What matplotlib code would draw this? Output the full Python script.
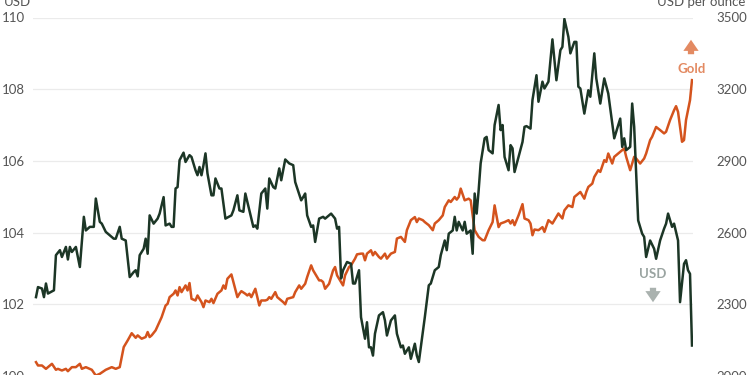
import matplotlib.pyplot as plt

plt.rcParams['font.family'] = ['Lato', 'DejaVu Sans']

# trading-session index (Jan 2024 -> Apr 2025) and values
usd_idx = [0, 1, 3, 4, 5, 6, 9, 10, 12, 13, 15, 16, 17, 18, 20, 22, 24, 25, 27, 29,
           30, 32, 33, 35, 39, 40, 42, 43, 45, 47, 49, 50, 51, 52, 54, 55, 56, 57, 59, 61,
           62, 64, 65, 67, 68, 69, 70, 71, 72, 74, 75, 77, 78, 80, 81, 82, 83, 84, 85, 86,
           88, 89, 90, 92, 93, 95, 98, 99, 101, 102, 104, 105, 107, 109, 110, 111, 113, 115, 116, 117,
           119, 120, 122, 123, 125, 127, 129, 130, 133, 134, 135, 136, 138, 139, 140, 142, 144, 145, 148, 150,
           151, 152, 153, 154, 156, 158, 159, 160, 162, 163, 165, 166, 167, 168, 169, 170, 172, 174, 175, 176,
           178, 180, 181, 183, 184, 185, 187, 188, 190, 191, 192, 195, 197, 198, 200, 202, 203, 205, 206, 207,
           209, 210, 211, 212, 214, 215, 216, 218, 219, 220, 221, 222, 223, 225, 226, 227, 229, 230, 232, 233,
           234, 235, 237, 238, 239, 240, 242, 244, 245, 246, 248, 249, 251, 252, 254, 255, 257, 259, 261, 263,
           264, 265, 267, 268, 270, 271, 272, 273, 275, 277, 278, 280, 281, 283, 285, 287, 289, 290, 293, 294,
           295, 296, 298, 299, 300, 302, 304, 305, 306, 308, 310, 311, 313, 315, 316, 317, 319, 320, 322, 323,
           325, 326, 327, 328, 329]
usd_vals = [102.20, 102.48, 102.44, 102.20, 102.58, 102.30, 102.39, 103.37, 103.51, 103.32,
            103.60, 103.25, 103.60, 103.46, 103.60, 103.04, 104.44, 104.06, 104.16, 104.16,
            104.95, 104.30, 104.25, 104.02, 103.83, 103.83, 104.16, 103.83, 103.78, 102.76,
            102.90, 102.95, 102.78, 103.37, 103.55, 103.83, 103.41, 104.48, 104.25, 104.39,
            104.53, 104.99, 104.20, 104.25, 104.16, 104.16, 105.23, 105.27, 106.02, 106.23,
            105.97, 106.16, 106.11, 105.74, 105.60, 105.83, 105.60, 105.88, 106.21, 105.65,
            105.04, 105.04, 105.51, 105.23, 105.23, 104.39, 104.48, 104.62, 105.04, 104.62,
            104.58, 105.09, 104.62, 104.16, 104.20, 104.11, 105.09, 105.23, 104.67, 105.51,
            105.27, 105.23, 105.79, 105.46, 106.04, 105.93, 105.88, 105.41, 104.90, 104.99,
            105.09, 104.48, 104.16, 104.20, 103.74, 104.39, 104.44, 104.39, 104.53, 104.39,
            104.11, 104.16, 102.72, 102.95, 103.18, 103.13, 102.58, 102.58, 102.95, 101.64,
            101.04, 101.50, 100.80, 100.80, 100.57, 101.18, 101.69, 101.78, 101.55, 101.13,
            101.55, 101.69, 101.18, 100.80, 100.85, 100.62, 100.80, 100.48, 100.90, 100.57,
            100.39, 101.64, 102.53, 102.58, 102.95, 103.04, 103.37, 103.78, 103.51, 103.97,
            104.06, 104.44, 104.06, 104.30, 104.06, 104.30, 103.97, 104.06, 103.41, 105.09,
            104.53, 105.18, 105.93, 106.63, 106.67, 106.30, 106.21, 107.00, 107.56, 106.86,
            107.00, 106.11, 105.74, 106.44, 106.35, 105.69, 106.11, 106.53, 106.95, 106.97,
            106.90, 107.70, 108.39, 107.65, 108.21, 108.02, 108.21, 109.39, 108.25, 109.09,
            109.18, 109.96, 109.46, 109.00, 109.32, 109.32, 108.07, 108.02, 107.32, 107.97,
            107.79, 109.00, 108.30, 107.60, 108.30, 107.88, 107.04, 106.63, 107.18, 106.39,
            106.63, 106.30, 106.39, 107.60, 106.95, 104.34, 103.97, 103.88, 103.32, 103.78,
            103.55, 103.27, 103.78, 104.11, 104.25, 104.53, 104.16, 104.25, 103.78, 102.06,
            103.13, 103.23, 102.95, 102.85, 100.85]

gold_idx = [0, 1, 3, 5, 6, 8, 10, 11, 13, 15, 16, 18, 20, 22, 23, 25, 28, 30, 32, 35,
            38, 40, 42, 44, 46, 48, 50, 51, 53, 55, 56, 57, 58, 60, 63, 65, 66, 67, 69, 70,
            71, 72, 73, 75, 76, 77, 78, 80, 81, 83, 84, 85, 87, 88, 89, 91, 93, 94, 95, 96,
            98, 99, 101, 102, 103, 105, 106, 107, 108, 110, 111, 112, 113, 115, 116, 117, 118, 120, 121, 122,
            124, 125, 126, 129, 130, 132, 133, 135, 136, 138, 139, 140, 142, 143, 144, 145, 147, 149, 150, 151,
            153, 154, 155, 157, 158, 160, 161, 163, 164, 165, 166, 168, 169, 170, 172, 173, 175, 176, 178, 180,
            181, 183, 185, 186, 188, 190, 191, 192, 194, 195, 197, 199, 200, 202, 204, 205, 207, 208, 210, 211,
            212, 213, 215, 217, 218, 219, 220, 222, 224, 225, 227, 229, 230, 232, 233, 235, 237, 238, 239, 240,
            242, 244, 245, 247, 248, 249, 250, 252, 254, 255, 257, 259, 260, 262, 264, 265, 267, 269, 270, 272,
            273, 275, 276, 277, 279, 280, 282, 283, 285, 286, 287, 289, 290, 292, 293, 295, 296, 298, 300, 301,
            303, 305, 306, 308, 309, 311, 313, 315, 316, 318, 320, 321, 322, 324, 325, 326, 328, 329]
gold_vals = [2058, 2044, 2044, 2030, 2037, 2051, 2026, 2030, 2023, 2030,
             2020, 2037, 2037, 2051, 2030, 2037, 2026, 2002, 2009, 2026,
             2037, 2030, 2037, 2121, 2149, 2179, 2160, 2170, 2156, 2163,
             2184, 2163, 2170, 2191, 2246, 2295, 2302, 2330, 2344, 2358,
             2337, 2372, 2351, 2379, 2358, 2389, 2323, 2316, 2337, 2309,
             2288, 2316, 2309, 2323, 2305, 2344, 2358, 2379, 2365, 2407,
             2425, 2393, 2330, 2344, 2355, 2344, 2337, 2344, 2330, 2365,
             2330, 2295, 2316, 2316, 2319, 2330, 2323, 2351, 2330, 2323,
             2309, 2300, 2323, 2330, 2351, 2379, 2365, 2386, 2414, 2463,
             2442, 2428, 2400, 2400, 2393, 2365, 2386, 2442, 2456, 2421,
             2393, 2379, 2421, 2456, 2463, 2491, 2509, 2512, 2512, 2484,
             2512, 2526, 2505, 2519, 2498, 2491, 2512, 2491, 2512, 2519,
             2575, 2582, 2561, 2610, 2652, 2665, 2644, 2659, 2652, 2644,
             2631, 2610, 2638, 2652, 2672, 2707, 2735, 2728, 2749, 2738,
             2749, 2784, 2735, 2742, 2735, 2672, 2610, 2582, 2568, 2568,
             2610, 2644, 2714, 2623, 2638, 2644, 2652, 2638, 2652, 2631,
             2672, 2719, 2659, 2652, 2638, 2589, 2613, 2610, 2623, 2603,
             2652, 2638, 2652, 2680, 2659, 2693, 2714, 2707, 2749, 2763,
             2770, 2742, 2770, 2791, 2805, 2833, 2861, 2854, 2903, 2896,
             2931, 2889, 2917, 2931, 2938, 2952, 2917, 2861, 2917, 2910,
             2889, 2910, 2931, 2987, 3001, 3042, 3029, 3015, 3022, 3071,
             3112, 3129, 3105, 2980, 2987, 3071, 3154, 3238]

usd_ticks = [100, 102, 104, 106, 108, 110]
gold_ticks = [2000, 2300, 2600, 2900, 3200, 3500]

green = '#1c3626'
orange = '#d4531d'

fig = plt.figure(figsize=(7.5, 3.75), dpi=100)
ax = fig.add_axes([33 / 750, -1 / 375, 660 / 750, 358.5 / 375])
ax2 = ax.twinx()

# gold sits behind, gridlines drawn on its axes
ax.set_zorder(ax2.get_zorder() + 1)
ax.patch.set_visible(False)

ax2.plot(gold_idx, gold_vals, color=orange, lw=1.8, solid_joinstyle='round')
ax.plot(usd_idx, usd_vals, color=green, lw=1.8, solid_joinstyle='round')

ax.set_xlim(-1.5, 329.5)
ax.set_ylim(100, 110)
ax2.set_ylim(2000, 3500)
ax.set_yticks(usd_ticks)
ax2.set_yticks(gold_ticks)
ax.set_xticks([])

ax2.grid(axis='y', color='#ebebeb', lw=0.9)
ax2.set_axisbelow(True)

for a in (ax, ax2):
    for s in a.spines.values():
        s.set_visible(False)

ax.tick_params(axis='y', length=0, pad=6, labelsize=9.5, labelcolor='#555555')
ax2.tick_params(axis='y', length=0, pad=39, labelsize=9.5, labelcolor='#555555')
for lab in ax2.get_yticklabels():
    lab.set_horizontalalignment('right')

fig.text(4 / 750, 373 / 375, 'USD', fontsize=9.5, color='#555555', va='center', ha='left')
fig.text(745 / 750, 373 / 375, 'USD per ounce', fontsize=9.5, color='#555555', va='center', ha='right')

# direction markers
fig.text(692 / 750, (375 - 69) / 375, 'Gold', fontsize=9.5, fontweight='bold',
         color='#e38a62', ha='center', va='center')
ax.annotate('', xy=(691, 375 - 37), xytext=(691, 375 - 57), xycoords='figure pixels',
            textcoords='figure pixels',
            arrowprops=dict(arrowstyle='simple,head_width=1.1,head_length=0.8,tail_width=0.45',
                            color='#e38a62', lw=0))
fig.text(653 / 750, (375 - 274) / 375, 'USD', fontsize=9.5, fontweight='bold',
         color='#9aa4a1', ha='center', va='center')
ax.annotate('', xy=(653, 375 - 305), xytext=(653, 375 - 285), xycoords='figure pixels',
            textcoords='figure pixels',
            arrowprops=dict(arrowstyle='simple,head_width=1.1,head_length=0.8,tail_width=0.45',
                            color='#aab2af', lw=0))

fig.savefig('out.png', dpi=100)
